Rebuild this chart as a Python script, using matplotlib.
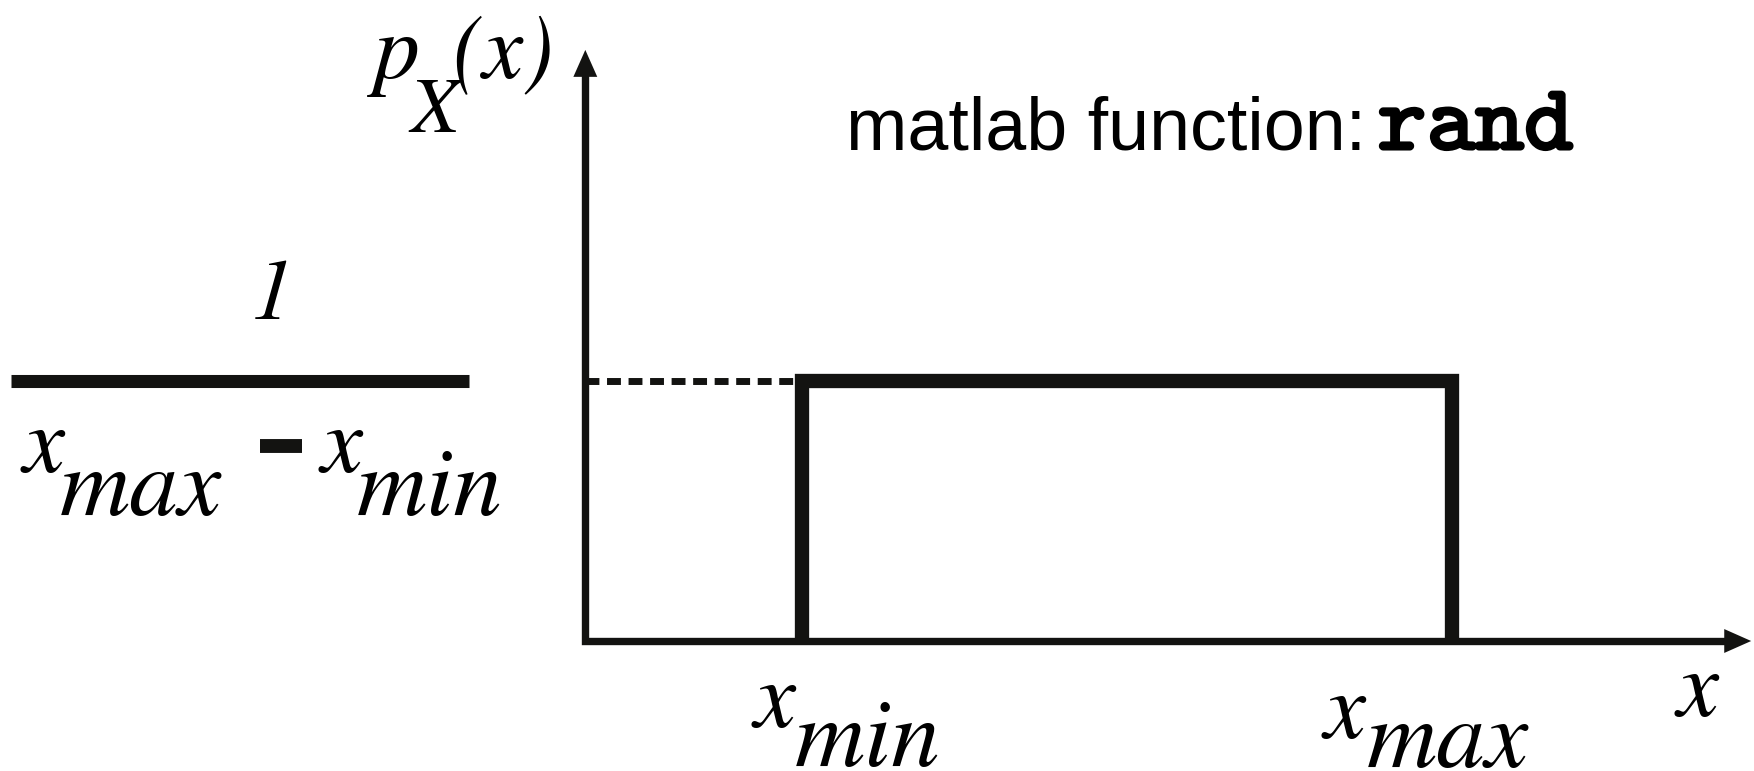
import matplotlib
matplotlib.use("Agg")
import matplotlib.pyplot as plt
from matplotlib.patches import ArrowStyle
import matplotlib.patheffects as pe

# ---- data -------------------------------------------------------------
x_min = 1.0
x_max = 4.0
density = 1.0 / (x_max - x_min)          # height of the uniform pdf
x_axis_end = 5.38                        # tip of the x-axis arrow
y_axis_top = 0.758                       # tip of the y-axis arrow
frac_bar = [-2.65, -0.535]               # x-extent of the fraction bar

tick_labels = ["min", "max"]
title_text = "matlab function: "
func_name = "rand"

# ---- figure -----------------------------------------------------------
W, H = 1754, 771
DPI = 100
INK = "#131311"
fig = plt.figure(figsize=(W / DPI, H / DPI), dpi=DPI)
ax = fig.add_axes([0, 0, 1, 1])
ax.set_xlim(-2.701, 5.393)
ax.set_ylim(-0.1667, 0.822)
ax.axis("off")

# axes with arrow heads
head_px = 27
dx_head = head_px / 216.7
dy_head = head_px / 780.0
ax.plot([0, 0, x_axis_end - 0.8 * dx_head], [y_axis_top - 0.8 * dy_head, 0, 0],
        color=INK, lw=5.3, solid_joinstyle="miter", solid_capstyle="butt")
style = ArrowStyle("-|>", head_length=19.4, head_width=8.6)
for tip, start in [((x_axis_end, 0), (0, 0)), ((0, y_axis_top), (0, 0))]:
    ax.annotate("", xy=tip, xytext=start,
                arrowprops=dict(arrowstyle=style, lw=0, color=INK,
                                shrinkA=0, shrinkB=0, mutation_scale=1))

# dashed guide from y-axis to the pdf level
ax.plot([0, x_min], [density, density], color=INK, lw=5.0,
        dashes=(2.0, 1.1), solid_capstyle="butt", dash_capstyle="butt")

# uniform pdf
ax.plot([x_min, x_min, x_max, x_max], [0, density, density, 0],
        color=INK, lw=10.3, solid_joinstyle="miter", solid_capstyle="butt")

# fraction bar of 1/(xmax-xmin)
ax.plot(frac_bar, [density, density], color=INK, lw=9.4, solid_capstyle="butt")

# ---- text -------------------------------------------------------------
SER = dict(family="STIXGeneral", style="italic", color="black")
SZ = 68


def put(s, px, py, size=SZ, ha="left", **kw):
    return fig.text(px / W, 1 - py / H, s, fontsize=size, ha=ha,
                    va="baseline", **kw)


# p_X(x)
put("p", 374, 78, size=66, **SER)
put("X", 410, 132, size=57, **SER)
put("(x)", 452, 78, size=66, **SER)

# numerator / denominator
put("1", 272, 319, size=62, ha="center", **SER)
put("x", 23, 472, **SER)
put(tick_labels[1], 60, 515, size=70, **SER)
ax.plot([260 / W, 302 / W], [1 - 446 / H, 1 - 446 / H], color=INK, lw=10,
        solid_capstyle="butt", transform=fig.transFigure)
put("x", 321, 472, **SER)
put(tick_labels[0], 357, 515, size=70, **SER)

# tick labels under x-axis
put("x", 754, 727, **SER)
put(tick_labels[0], 795, 766, size=70, **SER)
put("x", 1324, 738, **SER)
put(tick_labels[1], 1367, 767, size=70, **SER)
put("x", 1677, 716, **SER)

# title
put(title_text, 846, 149, size=53, family="Liberation Sans", color="black")
put(func_name, 1573, 149, size=67, ha="right", family="cmtt10",
    color="black", path_effects=[pe.withStroke(linewidth=2.2, foreground="black")])

fig.savefig("out.png", dpi=DPI, facecolor="white")
